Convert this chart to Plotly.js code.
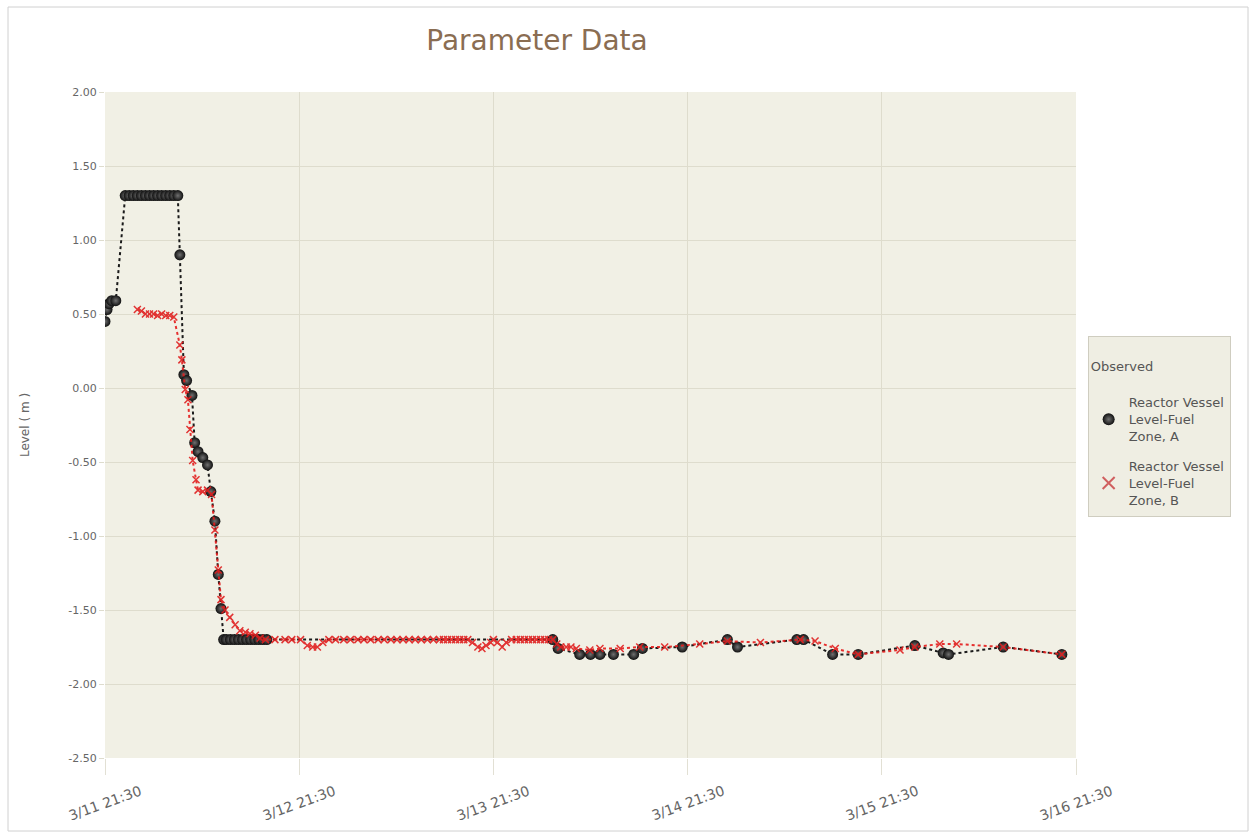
<!DOCTYPE html>
<html>
<head>
<meta charset="utf-8">
<script src="https://cdn.plot.ly/plotly-3.0.1.min.js"></script>
<style>html,body{margin:0;padding:0;background:#fff;}#chart{width:1249px;height:832px;}</style>
</head>
<body>
<div id="chart"></div>
<script>
// Series A: Reactor Vessel Level-Fuel Zone, A
const timesA = [
  "2011-03-11 21:30","2011-03-11 21:45","2011-03-11 22:00","2011-03-11 22:20","2011-03-11 22:50",
  "2011-03-12 00:00","2011-03-12 00:30","2011-03-12 01:00","2011-03-12 01:30","2011-03-12 02:00",
  "2011-03-12 02:30","2011-03-12 03:00","2011-03-12 03:30","2011-03-12 04:00","2011-03-12 04:30",
  "2011-03-12 05:00","2011-03-12 05:30","2011-03-12 06:00","2011-03-12 06:30",
  "2011-03-12 06:45","2011-03-12 07:15","2011-03-12 07:35","2011-03-12 08:15","2011-03-12 08:35",
  "2011-03-12 09:00","2011-03-12 09:35","2011-03-12 10:10","2011-03-12 10:35","2011-03-12 11:05",
  "2011-03-12 11:30","2011-03-12 11:50","2011-03-12 12:10",
  "2011-03-12 12:30","2011-03-12 13:00","2011-03-12 13:30","2011-03-12 14:00","2011-03-12 14:30",
  "2011-03-12 15:00","2011-03-12 15:30","2011-03-12 16:00","2011-03-12 16:30","2011-03-12 17:00","2011-03-12 17:30",
  "2011-03-14 04:50","2011-03-14 05:30","2011-03-14 08:10","2011-03-14 09:30","2011-03-14 10:40",
  "2011-03-14 12:20","2011-03-14 14:50","2011-03-14 15:55","2011-03-14 20:50",
  "2011-03-15 02:25","2011-03-15 03:40","2011-03-15 11:00","2011-03-15 11:50","2011-03-15 15:25","2011-03-15 18:35",
  "2011-03-16 01:35","2011-03-16 05:05","2011-03-16 05:45","2011-03-16 12:30","2011-03-16 19:45"
];
const valuesA = [
  0.45,0.53,0.57,0.59,0.59,
  1.30,1.30,1.30,1.30,1.30,
  1.30,1.30,1.30,1.30,1.30,
  1.30,1.30,1.30,1.30,
  0.90,0.09,0.05,-0.05,-0.37,
  -0.43,-0.47,-0.52,-0.70,-0.90,
  -1.26,-1.49,-1.70,
  -1.70,-1.70,-1.70,-1.70,-1.70,
  -1.70,-1.70,-1.70,-1.70,-1.70,-1.70,
  -1.70,-1.76,-1.80,-1.80,-1.80,
  -1.80,-1.80,-1.76,-1.75,
  -1.70,-1.75,-1.70,-1.70,-1.80,-1.80,
  -1.74,-1.79,-1.80,-1.75,-1.80
];

// Series B: Reactor Vessel Level-Fuel Zone, B
const timesB = [
  "2011-03-12 01:30","2011-03-12 02:00","2011-03-12 02:30","2011-03-12 03:00","2011-03-12 03:30",
  "2011-03-12 04:00","2011-03-12 04:30","2011-03-12 05:00","2011-03-12 05:30","2011-03-12 06:00",
  "2011-03-12 06:45","2011-03-12 07:00","2011-03-12 07:25","2011-03-12 07:45","2011-03-12 08:00",
  "2011-03-12 08:20","2011-03-12 08:45","2011-03-12 09:00","2011-03-12 09:35","2011-03-12 10:10",
  "2011-03-12 10:40","2011-03-12 11:05","2011-03-12 11:30","2011-03-12 11:50","2011-03-12 12:20",
  "2011-03-12 12:55","2011-03-12 13:35","2011-03-12 14:10","2011-03-12 14:50","2011-03-12 15:25",
  "2011-03-12 16:05","2011-03-12 16:40","2011-03-12 17:20",
  "2011-03-12 18:30","2011-03-12 19:45","2011-03-12 20:35","2011-03-12 21:40","2011-03-12 22:30",
  "2011-03-12 23:10","2011-03-12 23:45","2011-03-13 00:25","2011-03-13 01:10","2011-03-13 02:00",
  "2011-03-13 03:00","2011-03-13 03:50","2011-03-13 04:45","2011-03-13 05:30","2011-03-13 06:20",
  "2011-03-13 07:15","2011-03-13 08:00","2011-03-13 08:50","2011-03-13 09:35","2011-03-13 10:20",
  "2011-03-13 11:05","2011-03-13 11:50","2011-03-13 12:35","2011-03-13 13:20","2011-03-13 14:05",
  "2011-03-13 14:50","2011-03-13 15:20","2011-03-13 15:50","2011-03-13 16:20","2011-03-13 16:50",
  "2011-03-13 17:20","2011-03-13 17:50","2011-03-13 18:20","2011-03-13 18:55","2011-03-13 19:35",
  "2011-03-13 20:05","2011-03-13 20:35","2011-03-13 21:10","2011-03-13 21:30","2011-03-13 22:00",
  "2011-03-13 22:35","2011-03-13 23:05","2011-03-13 23:45","2011-03-14 00:20","2011-03-14 00:50",
  "2011-03-14 01:20","2011-03-14 01:50","2011-03-14 02:20","2011-03-14 02:50","2011-03-14 03:20",
  "2011-03-14 03:50","2011-03-14 04:20","2011-03-14 04:50","2011-03-14 05:20","2011-03-14 05:50",
  "2011-03-14 06:30","2011-03-14 07:05","2011-03-14 07:45","2011-03-14 09:25","2011-03-14 10:40",
  "2011-03-14 13:10","2011-03-14 15:35","2011-03-14 18:40","2011-03-14 23:00",
  "2011-03-15 02:25","2011-03-15 06:30","2011-03-15 11:25","2011-03-15 13:15","2011-03-15 15:45","2011-03-15 18:35",
  "2011-03-15 23:45","2011-03-16 01:35","2011-03-16 04:40","2011-03-16 06:45","2011-03-16 12:30","2011-03-16 19:45"
];
const valuesB = [
  0.53,0.52,0.50,0.50,0.50,
  0.49,0.50,0.49,0.49,0.48,
  0.29,0.19,-0.01,-0.08,-0.28,
  -0.49,-0.62,-0.69,-0.70,-0.69,
  -0.72,-0.96,-1.23,-1.43,-1.50,
  -1.55,-1.60,-1.64,-1.65,-1.66,
  -1.67,-1.69,-1.70,
  -1.70,-1.70,-1.70,-1.70,-1.74,
  -1.75,-1.75,-1.72,-1.70,-1.70,
  -1.70,-1.70,-1.70,-1.70,-1.70,
  -1.70,-1.70,-1.70,-1.70,-1.70,
  -1.70,-1.70,-1.70,-1.70,-1.70,
  -1.70,-1.70,-1.70,-1.70,-1.70,
  -1.70,-1.70,-1.70,-1.72,-1.75,
  -1.76,-1.74,-1.72,-1.70,-1.72,
  -1.75,-1.72,-1.70,-1.70,-1.70,
  -1.70,-1.70,-1.70,-1.70,-1.70,
  -1.70,-1.70,-1.70,-1.73,-1.75,
  -1.75,-1.75,-1.76,-1.77,-1.76,
  -1.76,-1.75,-1.75,-1.73,
  -1.71,-1.72,-1.70,-1.71,-1.76,-1.80,
  -1.77,-1.75,-1.73,-1.73,-1.75,-1.80
];

const xTickVals = ["2011-03-11 21:30","2011-03-12 21:30","2011-03-13 21:30","2011-03-14 21:30","2011-03-15 21:30","2011-03-16 21:30"];
const xTickText = ["3/11 21:30","3/12 21:30","3/13 21:30","3/14 21:30","3/15 21:30","3/16 21:30"];
const yTickVals = [2.0,1.5,1.0,0.5,0.0,-0.5,-1.0,-1.5,-2.0,-2.5];
const yTickText = ["2.00","1.50","1.00","0.50","0.00","-0.50","-1.00","-1.50","-2.00","-2.50"];

const nameA = "Reactor Vessel<br>Level-Fuel<br>Zone, A";
const nameB = "Reactor Vessel<br>Level-Fuel<br>Zone, B";

const markerA = {symbol: "circle", size: 11, color: "#101010", gradient: {type: "radial", color: "#707070"}, line: {width: 0}};
const markerB = {symbol: "x-thin", size: 7, color: "#e02020", line: {width: 1.5, color: "#e02020"}};

const traces = [
  {
    x: timesA, y: valuesA, name: nameA, type: "scatter", mode: "lines+markers",
    line: {color: "#1a1a1a", width: 2, dash: "dot"},
    marker: markerA, showlegend: false, legendgroup: "a"
  },
  {
    x: timesB, y: valuesB, name: nameB, type: "scatter", mode: "lines+markers",
    line: {color: "#e51b1b", width: 2, dash: "dot"},
    marker: markerB, opacity: 0.9, showlegend: false, legendgroup: "b"
  },
  // legend-only entries (marker symbol only, like the reference legend)
  {x: [null], y: [null], name: nameA, type: "scatter", mode: "markers", marker: markerA, legendgroup: "a"},
  {x: [null], y: [null], name: nameB, type: "scatter", mode: "markers",
   marker: {symbol: "x-thin", size: 9, color: "#d06060", line: {width: 2.5, color: "#d06060"}}, legendgroup: "b"}
];

const annotations = xTickVals.map((v, i) => ({
  x: v, xref: "x", y: -0.068, yref: "paper",
  text: xTickText[i], showarrow: false, textangle: -20,
  xanchor: "center", yanchor: "middle",
  font: {family: "DejaVu Sans, Verdana, sans-serif", size: 14, color: "#666"}
}));

const layout = {
  width: 1249, height: 832,
  paper_bgcolor: "#ffffff",
  plot_bgcolor: "#f1f0e5",
  margin: {l: 105, r: 173, t: 92, b: 74},
  title: {text: "Parameter Data", x: 537/1249, xref: "container", xanchor: "center", y: 1 - 40/832, yref: "container", yanchor: "middle",
          font: {family: "DejaVu Sans, Verdana, sans-serif", size: 28, color: "#8a6d52"}},
  font: {family: "DejaVu Sans, Verdana, sans-serif", color: "#666"},
  xaxis: {
    type: "date",
    range: ["2011-03-11 21:30", "2011-03-16 21:30"],
    tickvals: xTickVals, showticklabels: false,
    showgrid: true, gridcolor: "#dedccd", gridwidth: 1,
    ticks: "outside", ticklen: 16, tickcolor: "#e2e0d4",
    zeroline: false, showline: false
  },
  yaxis: {
    range: [-2.5, 2.0],
    tickvals: yTickVals, ticktext: yTickText,
    tickfont: {size: 11, color: "#666"},
    showgrid: true, gridcolor: "#dedccd", gridwidth: 1,
    ticks: "outside", ticklen: 5, tickcolor: "#dedccd",
    zeroline: false, showline: false,
    title: {text: "Level ( m )", font: {size: 12, color: "#666"}, standoff: 36}
  },
  annotations: annotations,
  showlegend: true,
  legend: {
    x: 1.012, xanchor: "left", y: 0.634, yanchor: "top",
    bgcolor: "#efeee3", bordercolor: "#cfcdc0", borderwidth: 1,
    title: {text: " <br>Observed<br> ", font: {size: 13, color: "#555"}},
    font: {size: 13, color: "#555"},
    itemsizing: "constant", itemwidth: 30, tracegroupgap: 10
  },
  shapes: [
    {type: "rect", xref: "paper", yref: "paper", x0: -97/971, x1: 1248/971 - 105/971, y0: -73/666, y1: 1 + 85/666,
     line: {color: "#d0d0d0", width: 1}, fillcolor: "rgba(0,0,0,0)", layer: "below"}
  ]
};

Plotly.newPlot("chart", traces, layout, {displayModeBar: false, staticPlot: true});
</script>
</body>
</html>
